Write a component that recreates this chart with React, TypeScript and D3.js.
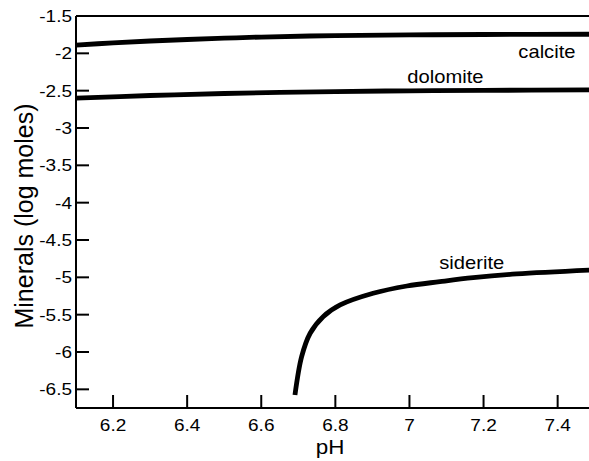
import React from "react";
import * as d3 from "d3";

const calcitePH = [6.1, 6.2, 6.3, 6.4, 6.5, 6.6, 6.8, 7.0, 7.2, 7.5];
const calciteVal = [-1.889, -1.86, -1.835, -1.815, -1.797, -1.782, -1.762, -1.753, -1.748, -1.744];
const dolomitePH = [6.1, 6.3, 6.5, 6.8, 7.0, 7.2, 7.5];
const dolomiteVal = [-2.6, -2.565, -2.538, -2.512, -2.502, -2.496, -2.49];
const sideritePH = [6.691, 6.709, 6.732, 6.767, 6.813, 6.902, 6.993, 7.082, 7.172, 7.289, 7.5];
const sideriteVal = [-6.576, -6.063, -5.749, -5.527, -5.37, -5.214, -5.116, -5.058, -5.005, -4.955, -4.9];

const xTicks = [6.2, 6.4, 6.6, 6.8, 7, 7.2, 7.4];
const yTicks = [-1.5, -2, -2.5, -3, -3.5, -4, -4.5, -5, -5.5, -6, -6.5];

const labelNames = ["calcite", "dolomite", "siderite"];
const labelPH = [7.371, 7.097, 7.168];
const labelVal = [-2.062, -2.397, -4.892];

const SX = 1.12;

function T({ x, y, size, anchor = "middle", children }: any) {
  return (
    <text
      transform={`translate(${x},${y}) scale(${SX},1)`}
      textAnchor={anchor}
      fontSize={size}
      fill="#000"
    >
      {children}
    </text>
  );
}

export default function App() {
  const W = 589, H = 461;
  const x = d3.scaleLinear().domain([6.1, 7.5]).range([76, 594.7]);
  const y = d3.scaleLinear().domain([-6.75, -1.5]).range([408, 16]);
  const line = d3
    .line<[number, number]>()
    .x((d) => x(d[0]))
    .y((d) => y(d[1]))
    .curve(d3.curveCatmullRom.alpha(0.5));
  const series = [
    calcitePH.map((p, i) => [p, calciteVal[i]] as [number, number]),
    dolomitePH.map((p, i) => [p, dolomiteVal[i]] as [number, number]),
    sideritePH.map((p, i) => [p, sideriteVal[i]] as [number, number]),
  ];
  const font = "'Liberation Sans', Arial, sans-serif";
  const x0 = x.range()[0];
  const yb = y.range()[0];
  const yt = y.range()[1];
  return (
    <svg
      width={W}
      height={H}
      style={{ position: "absolute", left: 0, top: 0, background: "#fff" }}
      fontFamily={font}
    >
      <rect width={W} height={H} fill="#fff" />
      {series.map((s, i) => (
        <path key={i} d={line(s) || ""} fill="none" stroke="#000" strokeWidth={4.8} strokeLinecap="butt" />
      ))}
      <line x1={x0} x2={W} y1={yt} y2={yt} stroke="#000" strokeWidth={2} />
      <line x1={x0} x2={W} y1={yb} y2={yb} stroke="#000" strokeWidth={2} />
      <line x1={x0} x2={x0} y1={yt} y2={yb} stroke="#000" strokeWidth={2} />
      {yTicks.map((t) => (
        <g key={t}>
          <line x1={x0} x2={x0 + 13} y1={y(t)} y2={y(t)} stroke="#000" strokeWidth={2} />
          <T x={72} y={y(t) + 6} size={17} anchor="end">
            {String(t)}
          </T>
        </g>
      ))}
      {xTicks.map((t) => (
        <g key={t}>
          <line x1={x(t)} x2={x(t)} y1={yb} y2={yb - 13} stroke="#000" strokeWidth={2} />
          <T x={x(t)} y={431} size={17}>
            {String(t)}
          </T>
        </g>
      ))}
      <T x={330} y={454} size={20}>pH</T>
      <text
        transform={`translate(33,${216}) rotate(-90)`}
        textAnchor="middle"
        fontSize={25}
        fill="#000"
      >
        Minerals (log moles)
      </text>
      {labelNames.map((n, i) => (
        <T key={n} x={x(labelPH[i])} y={y(labelVal[i])} size={18}>
          {n}
        </T>
      ))}
    </svg>
  );
}
